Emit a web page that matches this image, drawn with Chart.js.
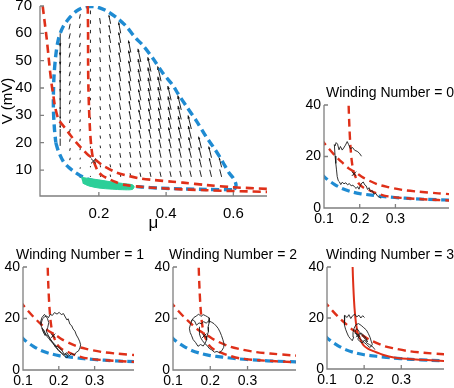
<!DOCTYPE html>
<html lang="en">
<head>
  <meta charset="UTF-8"/>
  <title>Phase plane and winding numbers</title>
  <script src="https://cdn.jsdelivr.net/npm/chart.js@4"></script>
  <style>
    body { margin:0; width:454px; height:388px; overflow:hidden; position:relative; background:#fff; font-family:'Liberation Sans',Arial,sans-serif; }
    canvas { position:absolute; }
    .ttl { position:absolute; font-size:14px; line-height:16px; color:#000; white-space:nowrap; transform:translateX(-50%); }
  </style>
</head>
<body>
<canvas id="main"></canvas>
<canvas id="wn0"></canvas>
<canvas id="wn1"></canvas>
<canvas id="wn2"></canvas>
<canvas id="wn3"></canvas>
<div class="ttl" style="left:390px; top:84px">Winding Number = 0</div>
<div class="ttl" style="left:80px; top:246px">Winding Number = 1</div>
<div class="ttl" style="left:233px; top:246px">Winding Number = 2</div>
<div class="ttl" style="left:390px; top:246px">Winding Number = 3</div>

<script>
  // ---- data ----
  const mainXTicks = [0.2, 0.4, 0.6];
  const mainYTicks = [10, 20, 30, 40, 50, 60, 70];
  const subXTicks = [0.1, 0.2, 0.3];
  const subYTicks = [0, 20, 40];

  // red dashed curve starting top-left
  const redAMu = [0.033,0.038,0.045,0.050,0.055,0.060,0.065,0.070,0.080,0.090,0.100,0.115,0.130,0.150,0.170,0.188,0.210,0.250,0.280,0.320,0.360,0.420,0.450,0.520,0.600,0.700];
  const redAV  = [70,65,58,52,46,41,37,33,28.5,26.8,25.3,22.8,20.5,17.8,15.3,13.9,11.8,9.2,8.1,7.0,6.4,5.7,5.4,4.5,3.7,3.1];
  // red curve dropping almost vertically at mu ~ 0.17
  const redBMu = [0.167,0.168,0.168,0.169,0.171,0.174,0.178,0.183,0.190,0.198,0.210,0.225,0.250,0.280,0.330,0.420,0.520,0.700];
  const redBV  = [70,60,50,40,32,24,18,14,11.5,9.4,8.0,7.0,5.6,4.5,3.8,3.1,2.6,2.0];
  // blue dashed cycle: right side, top and left side
  const loopUpperMu = [0.603,0.608,0.600,0.588,0.575,0.559,0.540,0.519,0.490,0.462,0.435,0.420,0.390,0.361,0.331,0.307,0.282,0.255,0.223,0.195,0.168,0.150,0.134,0.115,0.094,0.080,0.072,0.067,0.065,0.065,0.068,0.072];
  const loopUpperV  = [2.8,4.5,7.0,8.8,11.5,14.9,18.5,22.2,28,33,38,41,45.5,50.8,55.6,58.6,62.5,65.5,68.2,69.6,69.8,69.3,68.2,66,62.5,58,52,45,38.6,31.9,25,20];
  // blue dashed cycle: lower branch (also shown in the small panels)
  const loopLowerMu = [0.072,0.080,0.094,0.110,0.129,0.150,0.175,0.200,0.233,0.270,0.327,0.380,0.450,0.520,0.603];
  const loopLowerV  = [20,16.8,13.2,11.0,9.2,7.6,6.4,5.6,5.0,4.4,3.8,3.4,3.1,2.9,2.8];
  // green band along the bottom
  const greenMu = [0.147,0.165,0.200,0.240,0.270,0.300,0.305,0.300,0.270,0.240,0.200,0.170,0.152];
  const greenV  = [7.4,7.0,6.4,5.6,5.1,4.6,3.9,2.9,2.8,3.0,3.4,4.2,5.2];
  const fixMu = [0.184], fixV = [13.3];

  // quiver grid: rows, columns, per-column extent and direction, per-row length gain
  const quiverRows = [7.5,11,14.5,18,21.5,25,28.5,32,35.5,39,42.5,46,49.5,53,56.5,60,63.5,67];
  const quiverGain = [0.35,0.45,0.55,0.6,0.7,0.75,0.8,0.85,0.9,0.95,1.0,1.05,1.1,1.15,1.2,1.25,1.3,1.35];
  const quiverMu   = [0.085,0.115,0.145,0.175,0.205,0.235,0.265,0.295,0.325,0.355,0.385,0.415,0.445,0.475,0.505,0.535,0.565];
  const quiverLow  = [21,11,7.5,7.5,7.5,7.5,7.5,7.5,7.5,7.5,7.5,7.5,7.5,7.5,7.5,7.5,7.5];
  const quiverHigh = [60,64,67,67,63.5,63.5,60,53,49.5,46,42.5,35.5,32,25,18,14.5,11];
  const quiverDMu  = [0,-0.003,-0.002,0,-0.002,-0.004,-0.005,-0.006,-0.008,-0.009,-0.010,-0.011,-0.012,-0.013,-0.014,-0.015,-0.016];
  const quiverDV   = [-3.8,-1.6,-1.2,1.0,1.6,2.4,3.2,3.8,4.4,5.0,5.4,5.8,6.2,6.6,7.0,7.4,7.8];

  // noisy trajectories in the small panels
  const traj0Mu = [0.205,0.199,0.193,0.186,0.180,0.174,0.169,0.165,0.160,0.155,0.151,0.146,0.142,0.138,0.134,0.131,0.129,0.131,0.133,0.135,0.137,0.140,0.143,0.147,0.151,0.156,0.161,0.166,0.171,0.176,0.181,0.186,0.190,0.194,0.198,0.202,0.206,0.210,0.214,0.218,0.222,0.226,0.230,0.235,0.240,0.245,0.250,0.255,0.260];
  const traj0V  = [20.1,21.3,22.0,22.4,23.5,23.0,24.6,25.8,24.4,23.3,22.5,23.9,22.6,24.8,25.4,24.1,24.6,20.2,17.3,14.8,12.2,10.6,10.2,9.1,10.0,9.4,9.8,9.0,9.5,8.6,8.9,8.1,7.6,8.3,7.3,8.8,9.7,10.1,9.0,8.6,7.2,7.9,6.4,6.8,5.4,5.7,4.6,4.2,3.8];
  const traj1Mu = [0.150,0.154,0.160,0.166,0.171,0.176,0.182,0.188,0.195,0.201,0.207,0.213,0.218,0.223,0.226,0.231,0.236,0.240,0.245,0.249,0.254,0.258,0.261,0.259,0.255,0.249,0.243,0.236,0.229,0.222,0.215,0.209,0.203,0.197,0.190,0.184,0.178,0.172,0.166,0.160,0.155,0.151,0.149,0.153,0.160,0.168,0.172,0.169,0.165,0.170,0.176,0.183,0.191,0.199,0.207,0.214,0.221,0.226,0.222,0.214,0.206,0.197,0.189,0.180,0.172,0.164,0.158,0.153,0.156,0.162];
  const traj1V  = [17.5,19.8,20.6,21.0,20.3,21.6,21.2,22.3,21.7,22.4,21.5,21.9,20.6,19.4,19.9,17.8,17.2,15.9,15.1,13.6,12.4,11.2,9.8,8.6,7.4,6.9,5.8,6.4,5.6,6.7,6.1,7.6,8.3,9.2,9.0,10.4,11.1,12.3,13.1,14.4,15.8,17.0,18.6,20.4,21.6,20.1,18.4,16.5,15.1,13.6,12.1,10.6,8.9,7.5,6.6,5.8,6.2,5.1,4.8,5.6,6.9,8.1,9.9,11.2,12.9,13.8,15.5,16.2,14.9,13.3];
  const traj2Mu = [0.149,0.156,0.162,0.169,0.175,0.181,0.187,0.193,0.198,0.197,0.194,0.195,0.191,0.190,0.186,0.181,0.174,0.167,0.161,0.154,0.150,0.146,0.144,0.147,0.152,0.158,0.163,0.170,0.176,0.182,0.189,0.196,0.203,0.210,0.216,0.221,0.226,0.230,0.234,0.237,0.236,0.231,0.225,0.218,0.211,0.204,0.197,0.191,0.185,0.179,0.174,0.171,0.170,0.172];
  const traj2V  = [19.0,20.4,20.9,21.7,20.8,21.5,21.1,20.6,20.2,18.4,16.6,14.9,13.1,11.6,10.4,9.3,9.9,9.2,10.6,11.8,13.3,14.6,16.2,17.8,19.6,19.0,17.4,18.3,17.9,18.8,18.2,19.1,18.6,18.0,17.1,16.2,14.8,13.4,11.7,10.1,8.8,7.5,6.7,7.2,6.9,7.8,8.4,9.6,10.3,11.4,12.6,14.0,15.6,16.8];
  const traj3Mu = [0.201,0.196,0.191,0.186,0.180,0.175,0.169,0.164,0.159,0.154,0.148,0.146,0.148,0.150,0.154,0.158,0.163,0.168,0.172,0.170,0.173,0.178,0.185,0.192,0.199,0.206,0.211,0.216,0.219,0.222,0.219,0.214,0.207,0.200,0.194,0.188,0.182,0.178,0.176,0.181,0.187,0.193,0.198,0.204,0.209,0.205,0.199,0.192,0.186,0.183,0.188,0.195,0.201,0.208,0.214,0.220,0.226,0.229];
  const traj3V  = [20.2,20.9,20.0,21.1,20.4,21.5,20.9,19.8,21.3,20.2,21.0,19.0,17.2,15.6,14.1,12.8,11.9,11.1,12.5,14.3,16.0,17.4,17.8,17.1,16.2,15.3,14.0,12.4,10.9,9.7,8.8,8.5,9.6,10.4,11.2,11.9,12.8,13.9,15.2,15.8,14.6,13.5,12.6,11.5,10.6,12.1,13.2,14.1,13.0,11.6,10.9,10.2,11.4,10.1,9.6,9.1,8.2,7.6];

  // ---- drawing ----
  const BLUE = '#1f8bd2', RED = '#df3019', GREEN = '#2ccf98', INK = '#1c1c1c', AXIS = '#7f7f7f';
  const FONT = 'Liberation Sans';

  function pts(xs, ys){ return xs.map((x, i) => ({x: x, y: ys[i]})); }
  function curve(data, color, width, dash, tension){
    return {data: data, showLine: true, borderColor: color, borderWidth: width, borderDash: dash || [],
            pointRadius: 0, tension: tension || 0, fill: false};
  }

  const frame = {
    id: 'frame',
    afterDatasetsDraw(chart, args, o){
      const {ctx, chartArea: a, scales: {x, y}} = chart;
      ctx.save();
      ctx.strokeStyle = AXIS; ctx.lineWidth = 1.3;
      ctx.beginPath();
      ctx.moveTo(a.left, a.top); ctx.lineTo(a.left, a.bottom); ctx.lineTo(a.right, a.bottom);
      o.xTicks.forEach(v => { const p = x.getPixelForValue(v); ctx.moveTo(p, a.bottom); ctx.lineTo(p, a.bottom - 4); });
      o.yTicks.forEach(v => { const p = y.getPixelForValue(v); ctx.moveTo(a.left, p); ctx.lineTo(a.left + 4, p); });
      ctx.stroke();
      ctx.restore();
    }
  };

  const quiver = {
    id: 'quiver',
    beforeDatasetsDraw(chart){
      const {ctx, scales: {x, y}} = chart;
      ctx.save();
      ctx.strokeStyle = '#222'; ctx.fillStyle = '#111'; ctx.lineWidth = 1;
      quiverMu.forEach((m, i) => {
        quiverRows.forEach((v, r) => {
          if (v < quiverLow[i] || v > quiverHigh[i]) return;
          const g = quiverGain[r];
          const x0 = x.getPixelForValue(m), y0 = y.getPixelForValue(v);
          const x1 = x.getPixelForValue(m + quiverDMu[i] * g), y1 = y.getPixelForValue(v + quiverDV[i] * g);
          const len = Math.hypot(x1 - x0, y1 - y0);
          ctx.beginPath(); ctx.moveTo(x0, y0); ctx.lineTo(x1, y1); ctx.stroke();
          if (len > 8) {
            const h = Math.min(4, len * 0.24), ang = Math.atan2(y1 - y0, x1 - x0);
            ctx.beginPath();
            ctx.moveTo(x1, y1);
            ctx.lineTo(x1 - h * Math.cos(ang - 0.42), y1 - h * Math.sin(ang - 0.42));
            ctx.lineTo(x1 - h * Math.cos(ang + 0.42), y1 - h * Math.sin(ang + 0.42));
            ctx.closePath(); ctx.fill();
          }
        });
      });
      ctx.restore();
    }
  };

  // p: plot area in page pixels plus margins round it
  function panel(id, p, datasets, extra){
    const cv = document.getElementById(id);
    const w = p.padL + (p.right - p.left) + p.padR, h = p.padT + (p.bottom - p.top) + p.padB;
    cv.width = w; cv.height = h;
    cv.style.left = (p.left - p.padL) + 'px';
    cv.style.top = (p.top - p.padT) + 'px';
    const plugins = [frame];
    if (extra.quiver) plugins.unshift(quiver);
    return new Chart(cv, {
      type: 'scatter',
      data: {datasets: datasets},
      plugins: plugins,
      options: {
        responsive: false, animation: false, events: [],
        layout: {padding: {left: 0, top: p.padT, right: p.padR, bottom: 0}},
        plugins: {legend: {display: false}, tooltip: {enabled: false},
                  frame: {xTicks: p.xTicks, yTicks: p.yTicks}},
        scales: {
          x: {
            type: 'linear', position: 'bottom', min: p.xMin, max: p.xMax,
            afterBuildTicks: s => { s.ticks = p.xTicks.map(v => ({value: v})); },
            afterFit: s => { s.height = p.padB; s.paddingLeft = 0; s.paddingRight = 0; },
            grid: {display: false, drawTicks: false}, border: {display: false},
            ticks: {color: '#000', padding: p.xPad, maxRotation: 0, autoSkip: false,
                    font: {family: FONT, size: p.fs}, callback: v => String(v)},
            title: extra.xTitle ? {display: true, text: extra.xTitle, color: '#000',
                    font: {family: FONT, size: 17, lineHeight: 1.2}, padding: {top: 0, bottom: 2}} : {display: false}
          },
          y: {
            type: 'linear', position: 'left', min: p.yMin, max: p.yMax,
            afterBuildTicks: s => { s.ticks = p.yTicks.map(v => ({value: v})); },
            afterFit: s => { s.width = p.padL; s.paddingTop = 0; s.paddingBottom = 0; },
            grid: {display: false, drawTicks: false}, border: {display: false},
            ticks: {color: '#000', padding: p.yPad, autoSkip: false,
                    font: {family: FONT, size: p.fs}, callback: v => String(v)},
            title: extra.yTitle ? {display: true, text: extra.yTitle, color: '#000',
                    font: {family: FONT, size: 15, lineHeight: 1}, padding: {top: 0, bottom: 0}} : {display: false}
          }
        }
      }
    });
  }

  const dashRed = [8, 5], dashBlue = [8, 4.5];

  panel('main',
    {left: 40, top: 6, right: 267, bottom: 196, padL: 40, padT: 6, padR: 20, padB: 40,
     xMin: 0.025, xMax: 0.7, yMin: 0.5, yMax: 70, xTicks: mainXTicks, yTicks: mainYTicks,
     fs: 15, xPad: 9, yPad: 8},
    [
      {data: pts(fixMu, fixV), pointStyle: 'crossRot', pointRadius: 3.5, borderColor: INK, borderWidth: 1},
      curve(pts(redAMu, redAV), RED, 2.6, dashRed, 0.3),
      curve(pts(redBMu, redBV), RED, 2.6, dashRed, 0.3),
      {data: pts(greenMu, greenV), showLine: true, fill: 'shape', backgroundColor: GREEN,
       borderColor: GREEN, borderWidth: 1, pointRadius: 0, tension: 0.3},
      curve(pts(loopUpperMu, loopUpperV), BLUE, 3.4, dashBlue, 0.3),
      curve(pts(loopLowerMu, loopLowerV), BLUE, 3.4, dashBlue, 0.3)
    ],
    {quiver: true, xTitle: 'μ', yTitle: 'V (mV)'});

  function small(id, area, traj, solidB){
    panel(id,
      Object.assign({padL: 30, padT: 6, padR: 4, padB: 28, xMin: 0.1, yMin: 0, yMax: 40,
                     xTicks: subXTicks, yTicks: subYTicks, fs: 14, xPad: 3, yPad: 3}, area),
      [
        {data: pts(fixMu, fixV), pointStyle: 'crossRot', pointRadius: 3, borderColor: INK, borderWidth: 1},
        curve(traj, INK, 0.9, [], 0),
        curve(pts(redAMu, redAV), RED, 2.4, dashRed, 0.3),
        curve(pts(redBMu, redBV), RED, solidB ? 2 : 2.4, solidB ? [] : dashRed, 0.3),
        curve(pts(loopLowerMu, loopLowerV), BLUE, 3.2, dashBlue, 0.3)
      ],
      {});
  }

  small('wn0', {left: 324, top: 105, right: 452, bottom: 208, xMax: 0.45, padR: 2}, pts(traj0Mu, traj0V), false);
  small('wn1', {left: 23, top: 267, right: 135, bottom: 370, xMax: 0.41, padL: 23}, pts(traj1Mu, traj1V), false);
  small('wn2', {left: 173, top: 267, right: 297, bottom: 370, xMax: 0.43}, pts(traj2Mu, traj2V), false);
  small('wn3', {left: 327, top: 267, right: 445, bottom: 369, xMax: 0.415}, pts(traj3Mu, traj3V), true);
</script>
</body>
</html>
